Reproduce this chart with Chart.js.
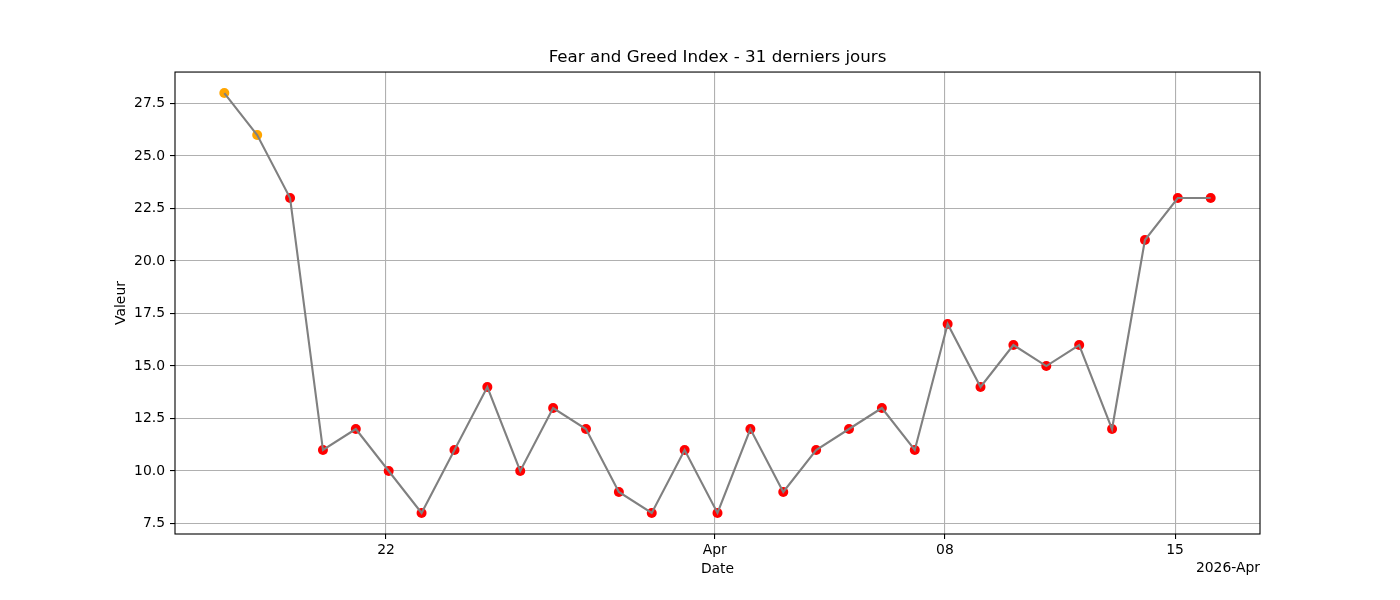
<!DOCTYPE html>
<html>
<head>
<meta charset="utf-8">
<script src="https://cdn.jsdelivr.net/npm/chart.js@4"></script>
<style>
  html, body { margin: 0; padding: 0; background: #fff; }
</style>
</head>
<body>
<canvas id="fng" width="1400" height="600"></canvas>
<script>
// Données (31 derniers jours)
const dates = [
  '2026-03-17','2026-03-18','2026-03-19','2026-03-20','2026-03-21','2026-03-22','2026-03-23',
  '2026-03-24','2026-03-25','2026-03-26','2026-03-27','2026-03-28','2026-03-29','2026-03-30',
  '2026-03-31','2026-04-01','2026-04-02','2026-04-03','2026-04-04','2026-04-05','2026-04-06',
  '2026-04-07','2026-04-08','2026-04-09','2026-04-10','2026-04-11','2026-04-12','2026-04-13',
  '2026-04-14','2026-04-15','2026-04-16'
];
const valeurs = [28, 26, 23, 11, 12, 10, 8, 11, 14, 10, 13, 12, 9, 8, 11, 8, 12, 9, 11, 12, 13, 11, 17, 14, 16, 15, 16, 12, 21, 23, 23];

const xTickDates = ['2026-03-22', '2026-04-01', '2026-04-08', '2026-04-15'];
const xTickLabels = ['22', 'Apr', '08', '15'];
const yTicks = [7.5, 10, 12.5, 15, 17.5, 20, 22.5, 25, 27.5];
const offsetLabel = '2026-Apr';

const SEUIL_PEUR = 25; // < 25 : peur extrême (rouge)

function toDay(s, heure) {
    return Date.parse(s + 'T' + (heure || '00:00') + ':00Z') / 86400000;
}

const points = dates.map((d, i) => ({ x: toDay(d, '02:00'), y: valeurs[i] }));
const xFirst = points[0].x;
const xLast = points[points.length - 1].x;
const xMarge = (xLast - xFirst) * 0.05;
const yMin = Math.min(...valeurs), yMax = Math.max(...valeurs);
const yMarge = (yMax - yMin) * 0.05;

const FONT = 'DejaVu Sans';

// Cadre + texte de décalage (comme matplotlib), titre centré sur la zone du graphe
const cadrePlugin = {
    id: 'cadre',
    afterLayout(chart) {
        if (chart.titleBlock) {
            chart.titleBlock.left = chart.chartArea.left;
            chart.titleBlock.right = chart.chartArea.right;
        }
    },
    afterDraw(chart) {
        const { ctx, chartArea } = chart;
        ctx.save();
        ctx.strokeStyle = '#000';
        ctx.lineWidth = 1.1;
        ctx.strokeRect(chartArea.left, chartArea.top, chartArea.right - chartArea.left, chartArea.bottom - chartArea.top);
        ctx.fillStyle = '#000';
        ctx.font = '13.9px "' + FONT + '"';
        ctx.textAlign = 'right';
        ctx.textBaseline = 'middle';
        ctx.fillText(offsetLabel, chartArea.right, 568);
        ctx.restore();
    }
};

const data = {
    datasets: [
        {
            // ligne grise par-dessus les points
            data: points,
            showLine: true,
            borderColor: '#808080',
            borderWidth: 2.1,
            pointRadius: 0,
            pointHoverRadius: 0,
            order: 1
        },
        {
            data: points,
            showLine: false,
            pointRadius: 5,
            pointBorderWidth: 0,
            pointBackgroundColor: c => (c.raw && c.raw.y < SEUIL_PEUR) ? '#ff0000' : '#ffa500',
            order: 2
        }
    ]
};

const options = {
    responsive: false,
    devicePixelRatio: 1,
    animation: false,
    layout: { padding: { left: 109, right: 140, top: 0, bottom: 20 } },
    plugins: {
        legend: { display: false },
        tooltip: { enabled: false },
        title: {
            display: true,
            text: 'Fear and Greed Index - 31 derniers jours',
            color: '#000',
            font: { family: FONT, size: 16.7, weight: 'normal' },
            padding: { top: 48, bottom: 4 }
        }
    },
    scales: {
        x: {
            type: 'linear',
            min: xFirst - xMarge,
            max: xLast + xMarge,
            afterBuildTicks: scale => { scale.ticks = xTickDates.map(d => ({ value: toDay(d) })); },
            afterFit: scale => { scale.height = 46; },
            ticks: {
                autoSkip: false,
                maxRotation: 0,
                padding: 3,
                color: '#000',
                font: { family: FONT, size: 13.9 },
                callback: (v, i) => xTickLabels[i]
            },
            grid: { color: '#b0b0b0', lineWidth: 1.1, tickColor: '#000', tickLength: 5, tickWidth: 1.1 },
            border: { display: false },
            title: {
                display: true, text: 'Date', color: '#000',
                font: { family: FONT, size: 13.9 },
                padding: { top: 2, bottom: 2 }
            }
        },
        y: {
            min: yMin - yMarge,
            max: yMax + yMarge,
            afterBuildTicks: scale => { scale.ticks = yTicks.map(v => ({ value: v })); },
            afterFit: scale => { scale.width = 66; },
            ticks: {
                padding: 5,
                color: '#000',
                font: { family: FONT, size: 13.9 },
                callback: v => Number(v).toFixed(1)
            },
            grid: { color: '#b0b0b0', lineWidth: 1.1, tickColor: '#000', tickLength: 5, tickWidth: 1.1 },
            border: { display: false },
            title: {
                display: true, text: 'Valeur', color: '#000',
                font: { family: FONT, size: 13.9 },
                padding: { top: 4, bottom: 4 }
            }
        }
    }
};

new Chart(document.getElementById('fng'), { type: 'scatter', data, options, plugins: [cadrePlugin] });
</script>
</body>
</html>
